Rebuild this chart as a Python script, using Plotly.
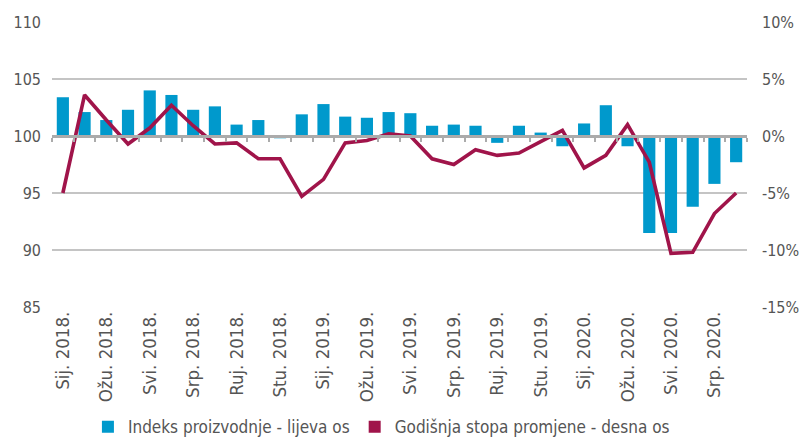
import plotly.graph_objects as go

months = ["Sij. 2018.", "Velj. 2018.", "Ožu. 2018.", "Tra. 2018.", "Svi. 2018.", "Lip. 2018.",
          "Srp. 2018.", "Kol. 2018.", "Ruj. 2018.", "Lis. 2018.", "Stu. 2018.", "Pro. 2018.",
          "Sij. 2019.", "Velj. 2019.", "Ožu. 2019.", "Tra. 2019.", "Svi. 2019.", "Lip. 2019.",
          "Srp. 2019.", "Kol. 2019.", "Ruj. 2019.", "Lis. 2019.", "Stu. 2019.", "Pro. 2019.",
          "Sij. 2020.", "Velj. 2020.", "Ožu. 2020.", "Tra. 2020.", "Svi. 2020.", "Lip. 2020.",
          "Srp. 2020.", "Kol. 2020."]

index_values = [103.4, 102.1, 101.4, 102.3, 104.0, 103.6, 102.3, 102.6, 101.0, 101.4, 99.8, 101.9,
                102.8, 101.7, 101.6, 102.1, 102.0, 100.9, 101.0, 100.9, 99.4, 100.9, 100.3, 99.1,
                101.1, 102.7, 99.1, 91.5, 91.5, 93.8, 95.8, 97.7]

annual_rate = [-5.0, 3.6, 1.4, -0.7, 0.7, 2.7, 0.9, -0.7, -0.6, -2.0, -2.0, -5.3,
               -3.8, -0.6, -0.4, 0.2, 0.0, -2.0, -2.5, -1.2, -1.7, -1.5, -0.5, 0.5,
               -2.8, -1.7, 1.0, -2.3, -10.3, -10.2, -6.8, -5.0]

left_ticks = [85, 90, 95, 100, 105, 110]
right_ticks = [-15, -10, -5, 0, 5, 10]
right_tick_text = ["-15%", "-10%", "-5%", "0%", "5%", "10%"]

BASE = 100
BLUE = "#0099CC"
RED = "#A0144A"
GREY_TXT = "#555555"
FONT = "DejaVu Sans Condensed, Roboto, sans-serif"

n = len(months)
xs = list(range(n))

fig = go.Figure()
fig.add_trace(go.Bar(
    x=xs, y=[v - BASE for v in index_values], base=BASE,
    marker=dict(color=BLUE, line=dict(width=0)), width=0.56,
    name="Indeks proizvodnje - lijeva os", xaxis="x", yaxis="y",
))
fig.add_trace(go.Scatter(
    x=xs, y=annual_rate, mode="lines",
    line=dict(color=RED, width=3.6),
    name="Godišnja stopa promjene - desna os", xaxis="x2", yaxis="y2",
    showlegend=False, legendgroup="rate",
))
# legend entry with square symbol for the line series
fig.add_trace(go.Scatter(
    x=[None], y=[None], mode="markers",
    marker=dict(color=RED, symbol="square", size=12),
    name="Godišnja stopa promjene - desna os", xaxis="x2", yaxis="y2",
    legendgroup="rate",
))

rng = [-0.5, n - 0.5]
fig.update_layout(
    width=803, height=439,
    margin=dict(l=52, r=56, t=22, b=132),
    paper_bgcolor="white", plot_bgcolor="white",
    font=dict(family=FONT, color=GREY_TXT, size=15),
    showlegend=True,
    legend=dict(orientation="h", x=0.475, xanchor="center", xref="container",
                y=0.068, yanchor="top", yref="container",
                font=dict(size=17, color=GREY_TXT), itemwidth=30, traceorder="normal"),
    bargap=0.45,
    xaxis=dict(range=rng, tickmode="array", tickvals=xs[::2], ticktext=months[::2],
               tickangle=-90, tickfont=dict(size=18.5), showgrid=False, zeroline=False,
               showline=False, ticks="", automargin=False),
    xaxis2=dict(range=rng, overlaying="x", anchor="free", position=(BASE - 85) / 25,
                showline=True, linecolor="#ababab", linewidth=2.5,
                ticks="outside", ticklen=4, tickwidth=2, tickcolor="#ababab",
                tickmode="array", tickvals=[i - 0.5 for i in range(n + 1)],
                showticklabels=False, showgrid=False, zeroline=False, automargin=False),
    yaxis=dict(range=[85, 110], tickmode="array", tickvals=left_ticks,
               showgrid=True, gridcolor="#c4c4c4", gridwidth=1.5, zeroline=False,
               tickfont=dict(size=16), ticklabelstandoff=10, automargin=False),
    yaxis2=dict(range=[-15, 10], overlaying="y", side="right", anchor="x",
                tickmode="array", tickvals=right_ticks, ticktext=right_tick_text,
                showgrid=False, zeroline=False, tickfont=dict(size=16),
                ticklabelstandoff=14, automargin=False),
)

fig.write_html("out.html", config={"displayModeBar": False},
               post_script="document.body.style.margin='0';document.body.style.overflow='hidden';")
